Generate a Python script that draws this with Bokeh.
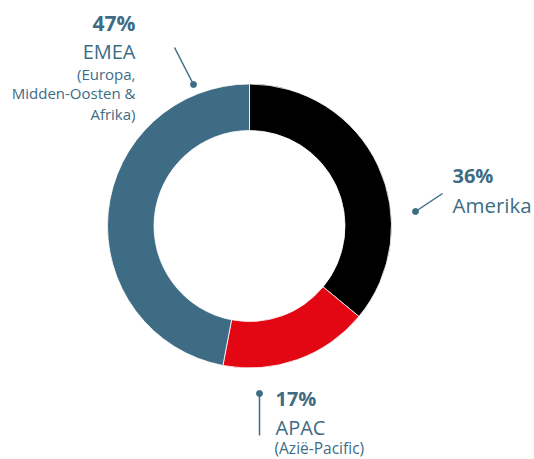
import math
from bokeh.plotting import figure
from bokeh.models import Range1d
from bokeh.core.properties import value
from bokeh.embed import file_html
from bokeh.resources import INLINE

regions = ["Amerika", "APAC", "EMEA"]
shares = [36, 17, 47]
colors = ["#000000", "#e30613", "#3e6c84"]

TXT = "#3e6c84"
FONT = value("Open Sans")

W, H = 534, 459
p = figure(width=W, height=H, output_backend="svg", toolbar_location=None,
           x_range=Range1d(0, W), y_range=Range1d(0, H),
           min_border=0)
p.axis.visible = False
p.grid.visible = False
p.outline_line_color = None

DY = 8  # baseline correction

def Y(y):
    return H - y

def T(y):
    return H - y + DY

cx, cy = 249, Y(225.5)
total = sum(shares)
cum = 0
starts, ends = [], []
for s in shares:
    starts.append(math.pi / 2 - 2 * math.pi * cum / total)
    cum += s
    ends.append(math.pi / 2 - 2 * math.pi * cum / total)

p.annular_wedge(x=[cx] * 3, y=[cy] * 3, inner_radius=95.5, outer_radius=142,
                start_angle=starts, end_angle=ends, direction="clock",
                fill_color=colors, line_color="white", line_width=0.8)

# leader lines
p.segment(x0=[174, 442, 259], y0=[Y(47), Y(193), Y(435)],
          x1=[193, 415, 259], y1=[Y(84), Y(211), Y(393)],
          line_color=TXT, line_width=1.5)
p.scatter(x=[193, 415, 259], y=[Y(84), Y(211), Y(393)], size=6,
          fill_color=TXT, line_color=TXT)

pct = [f"{s}%" for s in shares]

# EMEA block (right aligned)
p.text(x=[135], y=[T(30)], text=[pct[2]], text_font=FONT, text_font_style="bold",
       text_font_size="21px", text_color=TXT, text_align="right", text_baseline="alphabetic")
p.text(x=[135], y=[T(58.5)], text=["EMEA"], text_font=FONT,
       text_font_size="20px", text_color=TXT, text_align="right", text_baseline="alphabetic")
p.text(x=[135, 135, 135], y=[T(81.7), T(100.8), T(121)],
       text=["(Europa,", "Midden-Oosten &", "Afrika)"], text_font=FONT,
       text_font_size="15px", text_color=TXT, text_align="right", text_baseline="alphabetic")

# Amerika
p.text(x=[452], y=[T(183)], text=[pct[0]], text_font=FONT, text_font_style="bold",
       text_font_size="20px", text_color=TXT, text_align="left", text_baseline="alphabetic")
p.text(x=[452], y=[T(212.5)], text=["Amerika"], text_font=FONT,
       text_font_size="20.5px", text_color=TXT, text_align="left", text_baseline="alphabetic")

# APAC
p.text(x=[275], y=[T(406)], text=[pct[1]], text_font=FONT, text_font_style="bold",
       text_font_size="20px", text_color=TXT, text_align="left", text_baseline="alphabetic")
p.text(x=[275], y=[T(434.5)], text=["APAC"], text_font=FONT,
       text_font_size="20px", text_color=TXT, text_align="left", text_baseline="alphabetic")
p.text(x=[274], y=[T(455)], text=["(Azië-Pacific)"], text_font=FONT,
       text_font_size="15.5px", text_color=TXT, text_align="left", text_baseline="alphabetic")

open("out.html", "w").write(file_html(p, INLINE))
